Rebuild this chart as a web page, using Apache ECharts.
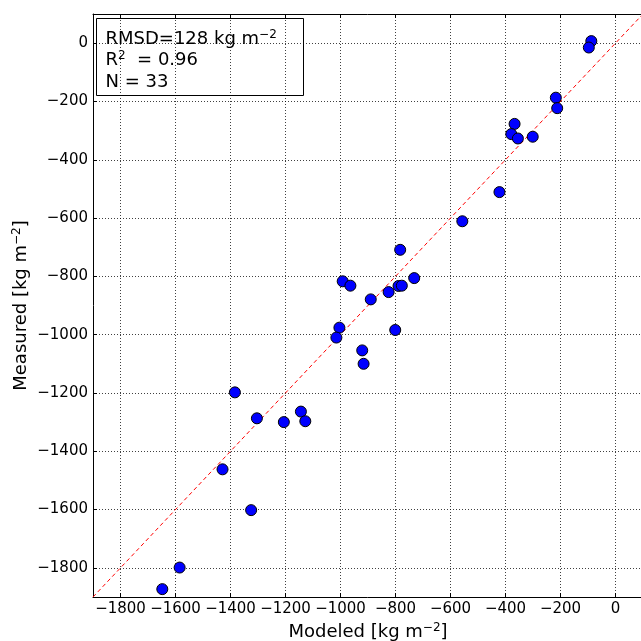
<!DOCTYPE html>
<html>
<head>
<meta charset="utf-8">
<script src="https://cdn.jsdelivr.net/npm/echarts@6/dist/echarts.min.js"></script>
<style>
  html, body, #main { width: 641px; height: 641px; margin: 0; background: #fff; }
</style>
</head>
<body>
<div id="main"></div>
<script>
// modeled vs measured (kg m-2)
var modeled = [-88, -97, -217, -212, -367, -379, -355, -301, -422, -557, -783, -992, -964, -890, -825, -789, -777, -732,
  -1004, -1015, -801, -921, -916, -1384, -1304, -1206, -1144, -1128, -1429, -1325, -1585, -1648];
var measured = [7, -15, -187, -223, -277, -312, -327, -321, -511, -611, -709, -817, -832, -879, -854, -833, -832, -806,
  -976, -1010, -984, -1054, -1100, -1198, -1287, -1300, -1264, -1297, -1462, -1602, -1799, -1873];
var oneToOne = [-1900, 100];
var xTicks = [-1800, -1600, -1400, -1200, -1000, -800, -600, -400, -200, 0];
var yTicks = [-1800, -1600, -1400, -1200, -1000, -800, -600, -400, -200, 0];

var FONT = 'DejaVu Sans';
var chart = echarts.init(document.getElementById('main'));

var pts = modeled.map(function (m, i) { return [m, measured[i]]; });
var fmt = function (v) { return String(v).replace('-', '\u2212'); };

var axisLine = { show: true, onZero: false, lineStyle: { color: '#000', width: 1 } };
var supStyle = { fontFamily: FONT, fontSize: 12, color: '#000', verticalAlign: 'top', padding: [0, 0, 8, 0] };

var option = {
  animation: false,
  backgroundColor: '#fff',
  grid: { left: 93, top: 14, width: 550, height: 583, containLabel: false, outerBoundsMode: 'none' },
  xAxis: [{
    type: 'value', min: -1900, max: 100, position: 'bottom',
    name: 'Modeled [kg m{s|\u22122}]', nameLocation: 'middle', nameGap: 25,
    nameTextStyle: { fontFamily: FONT, fontSize: 18, color: '#000', rich: { s: supStyle } },
    axisLine: axisLine,
    axisTick: { show: true, inside: true, length: 4, customValues: xTicks, lineStyle: { color: '#000' } },
    axisLabel: { customValues: xTicks, formatter: fmt, fontFamily: FONT, fontSize: 15, color: '#000', margin: 5 },
    splitLine: { show: true, lineStyle: { color: '#000', type: [1, 2], width: 1, opacity: 0.75 } }
  }, {
    type: 'value', min: -1900, max: 100, position: 'top',
    axisLine: axisLine,
    axisTick: { show: true, inside: true, length: 4, customValues: xTicks, lineStyle: { color: '#000' } },
    axisLabel: { show: false },
    splitLine: { show: false }
  }],
  yAxis: [{
    type: 'value', min: -1900, max: 100, position: 'left',
    name: 'Measured [kg m{s|\u22122}]', nameLocation: 'middle', nameGap: 62, nameRotate: 90,
    nameMoveOverlap: false,
    nameTextStyle: { fontFamily: FONT, fontSize: 18, color: '#000', rich: { s: supStyle } },
    axisLine: axisLine,
    axisTick: { show: true, inside: true, length: 4, customValues: yTicks, lineStyle: { color: '#000' } },
    axisLabel: { customValues: yTicks, formatter: fmt, fontFamily: FONT, fontSize: 15, color: '#000', margin: 5 },
    splitLine: { show: true, lineStyle: { color: '#000', type: [1, 2], width: 1, opacity: 0.75 } }
  }],
  series: [{
    type: 'line',
    data: [[oneToOne[0], oneToOne[0]], [oneToOne[1], oneToOne[1]]],
    symbol: 'none',
    lineStyle: { color: '#ff0000', width: 1, type: [4, 3] },
    z: 2
  }, {
    type: 'scatter',
    data: pts,
    symbol: 'circle',
    symbolSize: 11,
    itemStyle: { color: '#0000ff', borderColor: '#000', borderWidth: 1, opacity: 1 },
    z: 3
  }],
  graphic: [{
    type: 'group', left: 96, top: 18, z: 100,
    children: [{
      type: 'rect', shape: { x: 0, y: 0, width: 207, height: 77 },
      style: { fill: '#fff', stroke: '#000', lineWidth: 1 }
    }, {
      type: 'text', x: 9, y: 10,
      style: {
        text: 'RMSD=128 kg m{s|\u22122}\nR{s|2}  = 0.96\nN = 33',
        fontFamily: FONT, fontSize: 18, fill: '#000', lineHeight: 21.5,
        rich: { s: { fontFamily: FONT, fontSize: 12, fill: '#000', verticalAlign: 'top', padding: [0, 0, 8, 0] } }
      }
    }]
  }]
};
chart.setOption(option);
</script>
</body>
</html>
